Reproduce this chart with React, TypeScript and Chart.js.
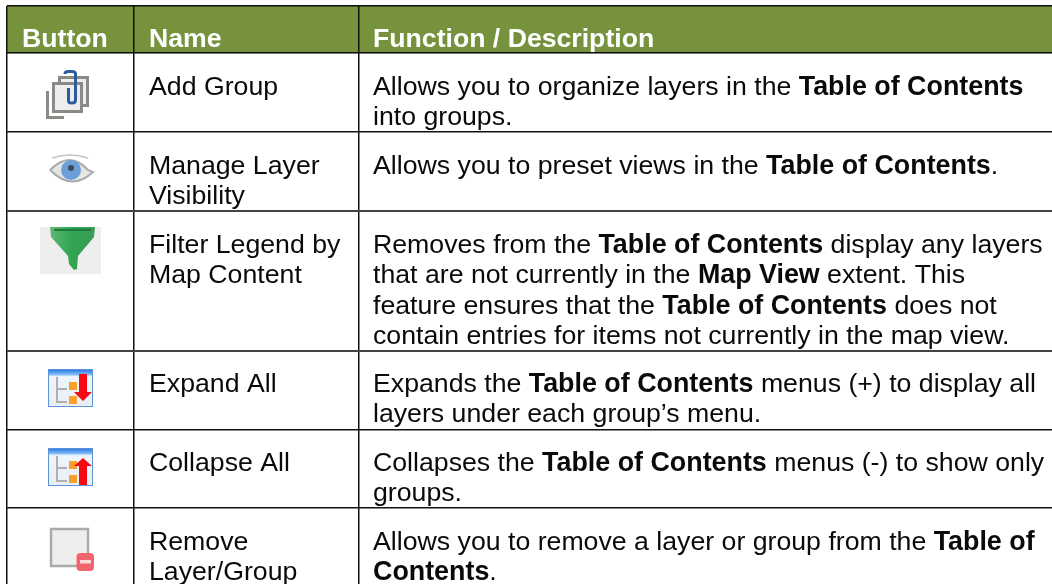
import React, { useEffect, useRef } from "react";
import { Chart, registerables } from "chart.js";

Chart.register(...registerables);

const WIDTH = 1052;
const HEIGHT = 584;
const FONT_SIZE = 26.7;
const BOLD_SIZE = 26.85;
const HEADER_SIZE = 26.65;
const FONT_FAMILY = '"Liberation Sans", Arial, sans-serif';

const headers = ["Button", "Name", "Function / Description"];
const headerX = [22, 149, 373];
const headerBaseline = 46.5;

const columnRules = [7, 134, 359];
const rowRules = [6, 53, 132, 211, 351, 430, 508];
const heavyRows = [211, 351];

const nameLines = [
  ["Add Group"],
  ["Manage Layer", "Visibility"],
  ["Filter Legend by", "Map Content"],
  ["Expand All"],
  ["Collapse All"],
  ["Remove", "Layer/Group"],
];

const descriptionLines = [
  ["Allows you to organize layers in the **Table of Contents**", "into groups."],
  ["Allows you to preset views in the **Table of Contents**."],
  [
    "Removes from the **Table of Contents** display any layers",
    "that are not currently in the **Map View** extent. This",
    "feature ensures that the **Table of Contents** does not",
    "contain entries for items not currently in the map view.",
  ],
  ["Expands the **Table of Contents** menus (+) to display all", "layers under each group\u2019s menu."],
  ["Collapses the **Table of Contents** menus (-) to show only", "groups."],
  ["Allows you to remove a layer or group from the **Table of", "Contents**."],
];

const rowBaselines = [95, 174, 253, 392, 471, 550];
const lineHeight = 30.3;

const GREEN = "#76923c";
const INK = "#0a0a0a";

function drawRich(ctx: CanvasRenderingContext2D, text: string, x: number, y: number, startBold: boolean) {
  let bold = startBold;
  let cx = x;
  text.split("**").forEach((part, i) => {
    if (i > 0) bold = !bold;
    if (!part) return;
    ctx.font = bold ? `bold ${BOLD_SIZE}px ${FONT_FAMILY}` : `${FONT_SIZE}px ${FONT_FAMILY}`;
    ctx.fillText(part, cx, y);
    cx += ctx.measureText(part).width;
  });
  return bold;
}

function rect(ctx: CanvasRenderingContext2D, c: string, x: number, y: number, w: number, h: number) {
  ctx.fillStyle = c;
  ctx.fillRect(x, y, w, h);
}

function iconGroup(ctx: CanvasRenderingContext2D) {
  const g = "#8a8b87";
  rect(ctx, g, 46, 91, 3, 28);
  rect(ctx, g, 46, 116, 18, 3);
  rect(ctx, g, 58, 76, 31, 31);
  rect(ctx, "#eeeeee", 61, 79, 25, 25);
  rect(ctx, g, 52, 82, 31, 31);
  rect(ctx, "#eeeeee", 55, 85, 25, 25);
  ctx.strokeStyle = "#2e5b9c";
  ctx.lineWidth = 3;
  ctx.beginPath();
  ctx.moveTo(68.5, 88);
  ctx.lineTo(68.5, 101);
  ctx.quadraticCurveTo(68.5, 103, 72, 103);
  ctx.quadraticCurveTo(75.5, 103, 75.5, 100);
  ctx.lineTo(75.5, 74);
  ctx.quadraticCurveTo(75.5, 71.5, 72, 71.5);
  ctx.lineTo(68, 71.5);
  ctx.quadraticCurveTo(65, 71.5, 65, 74);
  ctx.stroke();
}

function iconEye(ctx: CanvasRenderingContext2D) {
  ctx.fillStyle = "#e4e6e6";
  ctx.strokeStyle = "#a8acac";
  ctx.lineWidth = 2;
  ctx.beginPath();
  ctx.moveTo(50, 170);
  ctx.quadraticCurveTo(70, 150, 88, 170);
  ctx.lineTo(93, 172);
  ctx.quadraticCurveTo(72, 192, 50, 170);
  ctx.fill();
  ctx.stroke();
  ctx.strokeStyle = "#c2c5c5";
  ctx.lineWidth = 1.5;
  ctx.beginPath();
  ctx.moveTo(52, 158);
  ctx.quadraticCurveTo(70, 152, 88, 158);
  ctx.stroke();
  ctx.fillStyle = "#6b9fd6";
  ctx.beginPath();
  ctx.arc(71, 170, 10, 0, Math.PI * 2);
  ctx.fill();
  ctx.fillStyle = "#3e4a58";
  ctx.beginPath();
  ctx.arc(71, 168, 3, 0, Math.PI * 2);
  ctx.fill();
}

function iconFunnel(ctx: CanvasRenderingContext2D) {
  rect(ctx, "#eeeeee", 40, 227, 61, 47);
  const grad = ctx.createLinearGradient(50, 0, 95, 0);
  grad.addColorStop(0, "#5fb874");
  grad.addColorStop(0.5, "#2fa451");
  grad.addColorStop(1, "#3d9a58");
  ctx.fillStyle = grad;
  ctx.beginPath();
  ctx.moveTo(50, 227);
  ctx.lineTo(95, 227);
  ctx.lineTo(94, 237);
  ctx.lineTo(78, 256);
  ctx.lineTo(77, 269);
  ctx.lineTo(74, 270);
  ctx.lineTo(69, 264);
  ctx.lineTo(68, 256);
  ctx.lineTo(51, 237);
  ctx.closePath();
  ctx.fill();
  rect(ctx, "#1d7a3c", 54, 229, 37, 2);
}

function iconTree(ctx: CanvasRenderingContext2D, top: number, up: boolean) {
  const g = ctx.createLinearGradient(0, top, 0, top + 38);
  g.addColorStop(0, "#1f6fe0");
  g.addColorStop(0.14, "#7db8f5");
  g.addColorStop(0.2, "#eef5fc");
  g.addColorStop(1, "#e9eef5");
  ctx.fillStyle = g;
  ctx.fillRect(48, top, 45, 38);
  ctx.strokeStyle = "#5c94dc";
  ctx.lineWidth = 1;
  ctx.strokeRect(48.5, top + 0.5, 44, 37);
  ctx.strokeStyle = "#b0b0b0";
  ctx.lineWidth = 2;
  ctx.beginPath();
  ctx.moveTo(57, top + 8);
  ctx.lineTo(57, top + 33);
  ctx.lineTo(67, top + 33);
  ctx.moveTo(57, top + 20);
  ctx.lineTo(67, top + 20);
  ctx.stroke();
  rect(ctx, "#f7a12b", 69, top + 13, 8, 8);
  rect(ctx, "#f7a12b", 69, top + 27, 8, 8);
  ctx.fillStyle = "#f50a14";
  ctx.beginPath();
  if (up) {
    ctx.moveTo(83, top + 10);
    ctx.lineTo(92, top + 18);
    ctx.lineTo(87, top + 18);
    ctx.lineTo(87, top + 37);
    ctx.lineTo(79, top + 37);
    ctx.lineTo(79, top + 18);
    ctx.lineTo(74, top + 18);
  } else {
    ctx.moveTo(83, top + 32);
    ctx.lineTo(92, top + 23);
    ctx.lineTo(87, top + 23);
    ctx.lineTo(87, top + 5);
    ctx.lineTo(79, top + 5);
    ctx.lineTo(79, top + 23);
    ctx.lineTo(74, top + 23);
  }
  ctx.closePath();
  ctx.fill();
}

function iconRemove(ctx: CanvasRenderingContext2D) {
  rect(ctx, "#eeeeec", 50, 528, 38, 39);
  ctx.strokeStyle = "#aaaaa8";
  ctx.lineWidth = 2.5;
  ctx.strokeRect(51, 529, 37, 37);
  ctx.fillStyle = "#f2646c";
  ctx.beginPath();
  ctx.roundRect(76.5, 553, 17.5, 18, 4);
  ctx.fill();
  rect(ctx, "#f8dcd8", 80, 560, 11, 3.5);
}

const tablePlugin = {
  id: "tableText",
  afterDraw(chart: Chart) {
    const ctx = chart.ctx;
    ctx.save();
    ctx.textBaseline = "alphabetic";
    ctx.textAlign = "left";

    ctx.fillStyle = "#ffffff";
    ctx.font = `bold ${HEADER_SIZE}px ${FONT_FAMILY}`;
    headers.forEach((h, i) => ctx.fillText(h, headerX[i], headerBaseline));

    nameLines.forEach((lines, r) => {
      lines.forEach((line, l) => {
        ctx.font = `${FONT_SIZE}px ${FONT_FAMILY}`;
        ctx.fillStyle = INK;
        ctx.fillText(line, headerX[1], rowBaselines[r] + l * lineHeight);
      });
    });
    descriptionLines.forEach((lines, r) => {
      let bold = false;
      lines.forEach((line, l) => {
        ctx.fillStyle = INK;
        bold = drawRich(ctx, line, headerX[2], rowBaselines[r] + l * lineHeight, bold);
      });
    });

    iconGroup(ctx);
    iconEye(ctx);
    iconFunnel(ctx);
    iconTree(ctx, 369, false);
    iconTree(ctx, 448, true);
    iconRemove(ctx);
    ctx.restore();
  },
};

export default function App() {
  const ref = useRef<HTMLCanvasElement>(null);
  useEffect(() => {
    document.body.style.margin = "0";
    document.body.style.background = "#ffffff";
    const chart = new Chart(ref.current!, {
      type: "bar",
      data: {
        datasets: [
          {
            label: "Header",
            data: [{ x: [columnRules[0], WIDTH], y: (rowRules[0] + rowRules[1]) / 2 }] as any,
            backgroundColor: GREEN,
            borderWidth: 0,
            barThickness: rowRules[1] - rowRules[0],
            borderSkipped: false,
          },
        ],
      },
      options: {
        indexAxis: "y",
        animation: false,
        responsive: false,
        maintainAspectRatio: false,
        layout: { padding: { left: columnRules[0], top: rowRules[0], right: 0, bottom: 0 } },
        plugins: { legend: { display: false }, tooltip: { enabled: false }, title: { display: false } },
        scales: {
          x: {
            type: "linear",
            offset: false,
            min: columnRules[0],
            max: WIDTH,
            border: { display: false },
            ticks: { display: false },
            afterBuildTicks: (s: any) => {
              s.ticks = columnRules.map((value) => ({ value }));
            },
            grid: { z: 2, offset: false, drawTicks: false, color: "#111111", lineWidth: 1.5 },
          },
          y: {
            type: "linear",
            reverse: true,
            offset: false,
            min: rowRules[0],
            max: HEIGHT,
            border: { display: false },
            ticks: { display: false },
            afterBuildTicks: (s: any) => {
              s.ticks = rowRules.map((value) => ({ value }));
            },
            grid: {
              z: 2,
              offset: false,
              drawTicks: false,
              color: (c: any) => (heavyRows.includes(c.tick?.value) ? "#444444" : "#111111"),
              lineWidth: (c: any) => (heavyRows.includes(c.tick?.value) ? 2 : 1.5),
            },
          },
        },
      },
      plugins: [tablePlugin],
    } as any);
    return () => chart.destroy();
  }, []);
  return (
    <canvas
      ref={ref}
      width={WIDTH}
      height={HEIGHT}
      style={{ position: "absolute", left: 0, top: 0, width: WIDTH, height: HEIGHT, display: "block" }}
    />
  );
}
